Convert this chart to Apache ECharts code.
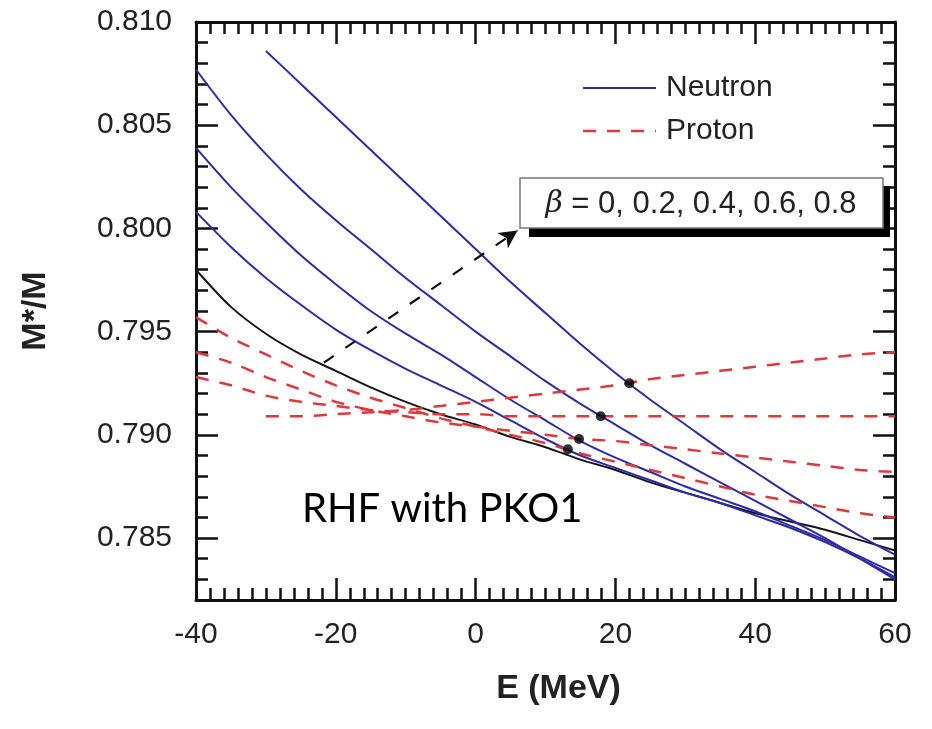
<!DOCTYPE html>
<html>
<head>
<meta charset="utf-8">
<script src="https://cdn.jsdelivr.net/npm/echarts@6/dist/echarts.min.js"></script>
<style>html,body{margin:0;padding:0;background:#fff;}#c{width:932px;height:729px;}</style>
</head>
<body>
<div id="c"></div>
<script>
// ---- data ----
const energy = [-40,-35,-30,-25,-20,-15,-10,-5,0,5,10,15,20,25,30,35,40,45,50,55,60];
const symmetric = [0.7980,0.7962,0.7949,0.7939,0.7931,0.7923,0.7916,0.7910,0.7905,0.7899,0.7894,0.7888,0.7883,0.7877,0.7872,0.7867,0.7862,0.7858,0.7854,0.7849,0.7844];
const neutron02 = [0.8008,0.7991,0.7976,0.7963,0.7951,0.7941,0.7932,0.7924,0.7916,0.7907,0.7898,0.7890,0.7884,0.7878,0.7872,0.7867,0.7861,0.7855,0.7848,0.7840,0.7831];
const neutron04 = [0.8039,0.8020,0.8003,0.7987,0.7973,0.7960,0.7949,0.7939,0.7928,0.7917,0.7907,0.7897,0.7889,0.7882,0.7875,0.7869,0.7863,0.7856,0.7849,0.7841,0.7833];
const neutron06 = [0.8077,0.8055,0.8036,0.8019,0.8004,0.7990,0.7976,0.7963,0.7950,0.7938,0.7926,0.7915,0.7905,0.7895,0.7886,0.7877,0.7868,0.7859,0.7850,0.7840,0.7830];
const neutron08 = [null,null,0.8086,0.8070,0.8054,0.8038,0.8022,0.8006,0.7990,0.7974,0.7959,0.7944,0.7930,0.7917,0.7905,0.7893,0.7882,0.7871,0.7861,0.7851,0.7842];
const proton02 = [0.7957,0.7947,0.7939,0.7931,0.7924,0.7918,0.7913,0.7908,0.7904,0.7900,0.7896,0.7891,0.7887,0.7883,0.7879,0.7875,0.7871,0.7868,0.7865,0.7862,0.7860];
const proton04 = [0.7940,0.7935,0.7928,0.7922,0.7916,0.7912,0.7909,0.7906,0.7904,0.7902,0.7900,0.7898,0.7897,0.7895,0.7893,0.7891,0.7889,0.7887,0.7885,0.7883,0.7882];
const proton06 = [0.7928,0.7924,0.7919,0.7916,0.7914,0.7912,0.7911,0.7910,0.7910,0.7909,0.7909,0.7909,0.7909,0.7909,0.7909,0.7909,0.7909,0.7909,0.7909,0.7909,0.7909];
const proton08 = [null,null,0.7909,0.7909,0.7910,0.7911,0.7912,0.7914,0.7916,0.7918,0.7920,0.7922,0.7924,0.7927,0.7929,0.7931,0.7933,0.7935,0.7937,0.7939,0.7940];
const crossE = [13.2,14.8,17.9,22.0];
const crossM = [0.7893,0.7898,0.7909,0.7925];
const arrowFrom = [-21.7,0.7935];
const arrowTo = [6.0,0.7999];
const xTicks = [-40,-20,0,20,40,60];
const yTicks = [0.785,0.790,0.795,0.800,0.805,0.810];
const legendNames = ['Neutron','Proton'];
const betaLabel = '= 0, 0.2, 0.4, 0.6, 0.8';

const BLUE = '#2c2ca8', RED = '#e0383a', BLACK = '#161616';
const RED_DASH = [13,11];
const pairs = a => energy.map((e,i)=>[e,a[i]]);
function lineSeries(name, arr, color, dashed){
  return {name, type:'line', data: pairs(arr), symbol:'none', showSymbol:false,
    smooth:0.3, connectNulls:false,
    lineStyle:{color, width: dashed?2.5:2, type: dashed?RED_DASH:'solid'},
    itemStyle:{color}, z:3};
}
const chart = echarts.init(document.getElementById('c'), null, {renderer:'canvas'});
const FONT = 'Liberation Sans, Arial, sans-serif';
const axisLine = {show:true, onZero:false, lineStyle:{color:'#111', width:3}};
const noLine = {show:false, onZero:false};
const major = (len)=>({show:true, inside:true, length:len, lineStyle:{color:'#111', width:2.5}});
const xBase = {type:'value', min:-40, max:60, interval:20, splitLine:{show:false}};
const yBase = {type:'value', min:0.782, max:0.810, splitLine:{show:false}, scale:true};
chart.setOption({
  backgroundColor:'#fff',
  animation:false,
  grid:{left:196, right:37, top:22, bottom:129},
  xAxis:[
    Object.assign({}, xBase, {position:'bottom', axisLine,
      axisTick:major(22), minorTick:{show:true, splitNumber:10, length:12, lineStyle:{color:'#111', width:2.5}},
      axisLabel:{show:true, margin:20, fontFamily:FONT, fontSize:30, color:'#222',
        customValues:xTicks},
      name:'E (MeV)', nameLocation:'middle', nameGap:72,
      nameTextStyle:{fontFamily:FONT, fontSize:34, fontWeight:'bold', color:'#222', padding:[0,0,0,26]}}),
    Object.assign({}, xBase, {position:'top', axisLine,
      axisTick:major(22), minorTick:{show:true, splitNumber:10, length:12, lineStyle:{color:'#111', width:2.5}},
      axisLabel:{show:false}})
  ],
  yAxis:[
    Object.assign({}, yBase, {position:'left', axisLine,
      axisTick:Object.assign(major(22), {customValues:yTicks}),
      axisLabel:{show:true, margin:24, fontFamily:FONT, fontSize:30, color:'#222',
        customValues:yTicks, formatter:v=>v.toFixed(3)},
      name:'M*/M', nameLocation:'middle', nameGap:143, nameRotate:90,
      nameTextStyle:{fontFamily:FONT, fontSize:34, fontWeight:'bold', color:'#222'}}),
    Object.assign({}, yBase, {position:'left', interval:0.001, axisLine:noLine,
      axisTick:major(12), axisLabel:{show:false}}),
    Object.assign({}, yBase, {position:'right', axisLine,
      axisTick:Object.assign(major(22), {customValues:yTicks}), axisLabel:{show:false}}),
    Object.assign({}, yBase, {position:'right', interval:0.001, axisLine:noLine,
      axisTick:major(12), axisLabel:{show:false}})
  ],
  series:[
    lineSeries('β=0', symmetric, BLACK, false),
    lineSeries('Neutron', neutron02, BLUE, false),
    lineSeries('Neutron', neutron04, BLUE, false),
    lineSeries('Neutron', neutron06, BLUE, false),
    lineSeries('Neutron', neutron08, BLUE, false),
    lineSeries('Proton', proton02, RED, true),
    lineSeries('Proton', proton04, RED, true),
    lineSeries('Proton', proton06, RED, true),
    lineSeries('Proton', proton08, RED, true),
    {name:'cross', type:'scatter', data: crossE.map((e,i)=>[e,crossM[i]]),
      symbol:'circle', symbolSize:10, itemStyle:{color:'#000'}, z:5},
    {name:'arrow', type:'line', data:[], z:6,
      markLine:{silent:true, symbol:['none','arrow'], symbolSize:[14,18], label:{show:false},
        lineStyle:{color:'#111', width:2.2, type:[12,14]},
        data:[[{coord:arrowFrom},{coord:arrowTo}]]}}
  ],
  graphic:[
    // legend
    {type:'line', z:12, shape:{x1:583,y1:88,x2:656,y2:88}, style:{stroke:BLUE, lineWidth:2}},
    {type:'text', z:12, x:666, y:88, style:{text:legendNames[0], fontFamily:FONT, fontSize:30, fill:'#222', verticalAlign:'middle'}},
    {type:'line', z:12, shape:{x1:583,y1:131,x2:656,y2:131}, style:{stroke:RED, lineWidth:2.5, lineDash:RED_DASH}},
    {type:'text', z:12, x:666, y:131, style:{text:legendNames[1], fontFamily:FONT, fontSize:30, fill:'#222', verticalAlign:'middle'}},
    // beta box
    {type:'rect', z:10, shape:{x:529,y:186,width:361,height:51}, style:{fill:'#000'}},
    {type:'rect', z:11, shape:{x:520,y:178,width:363,height:50}, style:{fill:'#fff', stroke:'#777', lineWidth:1.5}},
    {type:'text', z:12, x:701, y:204, style:{
      text:'{b|β}{t| '+betaLabel+'}', align:'center', verticalAlign:'middle',
      rich:{b:{fontFamily:'DejaVu Serif, serif', fontStyle:'italic', fontSize:30, fill:'#222'},
            t:{fontFamily:FONT, fontSize:31, fill:'#222'}}}},
    {type:'text', z:12, left:302, top:489, style:{text:'RHF with PKO1', fontFamily:'Lato, sans-serif', fontSize:40, fill:'#000'}}
  ]
});
</script>
</body>
</html>
